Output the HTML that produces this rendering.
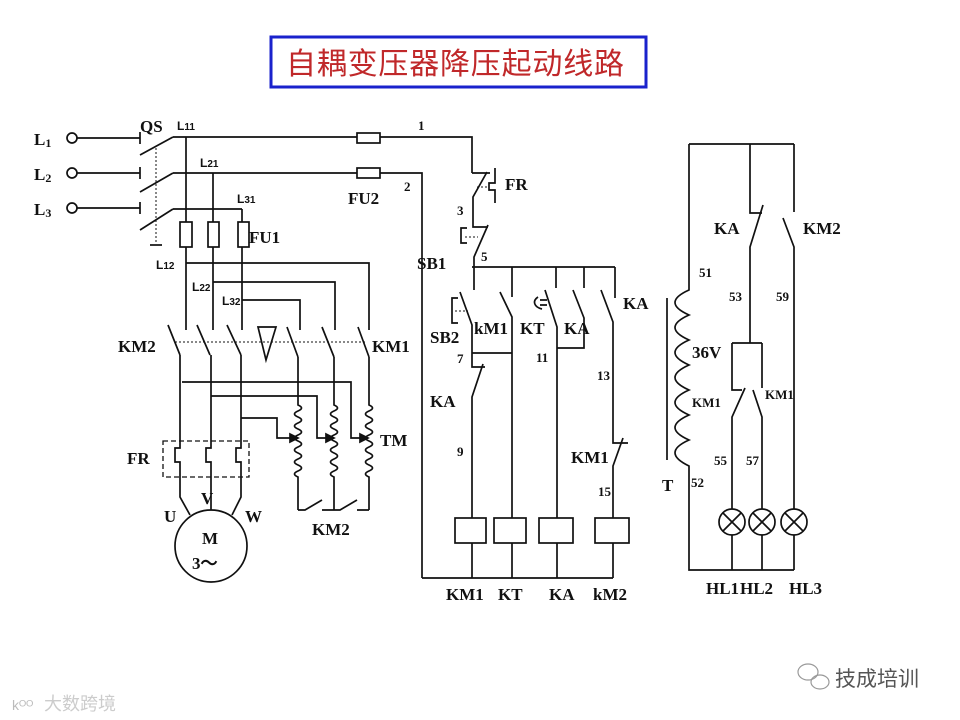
<!DOCTYPE html>
<html><head><meta charset="utf-8"><style>
html,body{margin:0;padding:0;background:#fff}
svg{display:block}
.t{font-family:"Liberation Serif",serif;font-weight:bold;font-size:17px;fill:#111}
.s{font-family:"Liberation Sans",sans-serif;font-weight:bold;font-size:12px;fill:#111}
.n{font-family:"Liberation Serif",serif;font-weight:bold;font-size:13px;fill:#111}
</style></head><body>
<svg width="960" height="720" viewBox="0 0 960 720" xmlns="http://www.w3.org/2000/svg">
<rect x="271" y="37" width="375" height="50" fill="none" stroke="#1a22cc" stroke-width="3"/>
<text x="455" y="74" text-anchor="middle" font-family="'Liberation Sans','Noto Sans CJK SC',sans-serif" font-size="30" fill="#c0282a" textLength="338">自耦变压器降压起动线路</text>

<g stroke="#111" stroke-width="1.7" fill="none">
<circle cx="72" cy="138" r="5"/><circle cx="72" cy="173" r="5"/><circle cx="72" cy="208" r="5"/>
<path d="M77 138H140M140 132V144M77 173H140M140 167V179M77 208H140M140 202V214"/>
<path d="M140 155L173 137M140 192L173 173M140 230L173 209"/>
<path d="M156 148V243" stroke-dasharray="2 2" stroke-width="1"/>
<path d="M150 245H162"/>
<path d="M173 137H472V173M173 173H422V578M173 209H242"/>
<rect x="357" y="133" width="23" height="10" fill="#fff"/>
<rect x="357" y="168" width="23" height="10" fill="#fff"/>
<path d="M186 137V330M213 173V330M242 209V330"/>
<rect x="180" y="222" width="12" height="25" fill="#fff"/>
<rect x="208" y="222" width="11" height="25" fill="#fff"/>
<rect x="238" y="222" width="11" height="25" fill="#fff"/>
<path d="M186 263H369V330M213 282H335V330M242 300H300V330"/>
<path d="M168 325L180 355M197 325L210 355M227 325L241 355M287 327L298 357M322 327L334 357M358 327L369 357"/>
<path d="M258 327H276L266 360Z"/>
<path d="M175 342H365" stroke-dasharray="2 2" stroke-width="1"/>
<path d="M180 355V448H175V462H180V497L190 515M211 355V448H206V462H211V510M241 355V448H236V462H241V497L232 515"/>
<path d="M182 382H351V438H360M211 396H317V438H326M241 418H277V438H290"/>
<path d="M360 434L368 438L360 442Z M326 434L334 438L326 442Z M290 434L298 438L290 442Z" fill="#111"/>
<path d="M298 357V405 q7 3 0 6 q-7 3 0 6 q7 3 0 6 q-7 3 0 6 q7 3 0 6 q-7 3 0 6 q7 3 0 6 q-7 3 0 6 q7 3 0 6 q-7 3 0 6 q7 3 0 6 q-7 3 0 6 V510"/>
<path d="M334 357V405 q7 3 0 6 q-7 3 0 6 q7 3 0 6 q-7 3 0 6 q7 3 0 6 q-7 3 0 6 q7 3 0 6 q-7 3 0 6 q7 3 0 6 q-7 3 0 6 q7 3 0 6 q-7 3 0 6 V510"/>
<path d="M369 357V405 q7 3 0 6 q-7 3 0 6 q7 3 0 6 q-7 3 0 6 q7 3 0 6 q-7 3 0 6 q7 3 0 6 q-7 3 0 6 q7 3 0 6 q-7 3 0 6 q7 3 0 6 q-7 3 0 6 V510"/>
<path d="M298 510H305L322 500M322 510H340L357 500M357 510H369"/>
<rect x="163" y="441" width="86" height="36" stroke-dasharray="5 3" stroke-width="1.3"/>
<circle cx="211" cy="546" r="36"/>
<path d="M472 173H490M487 172L473 197V227H488M488 225L474 257V290"/>
<path d="M495 168V183H489V190H495V203"/>
<path d="M477 187H489M465 237H478M455 311H468" stroke-dasharray="2 2" stroke-width="1"/>
<path d="M467 228H461V243H467M458 298H452V323H458"/>
<path d="M472 267H615M512 267V297M556 267V288M584 267V288M615 267V298"/>
<path d="M460 292L472 325V367H485M483 364L472 397V578"/>
<path d="M500 292L512 317V578M545 290L557 327V578M573 290L584 318V348H557M601 290L613 322V443H628M623 438L613 466V578"/>
<path d="M472 353H512"/>
<path d="M538 297c-6 4 -4 10 4 12M540 300h7M540 305h7"/>
<rect x="455" y="518" width="31" height="25" fill="#fff"/>
<rect x="494" y="518" width="32" height="25" fill="#fff"/>
<rect x="539" y="518" width="34" height="25" fill="#fff"/>
<rect x="595" y="518" width="34" height="25" fill="#fff"/>
<path d="M422 578H613"/>
<path d="M689 144H794M689 144V290 q-28 12.5 0 25 q-28 12.5 0 25 q-28 12.5 0 25 q-28 12.5 0 25 q-28 12.5 0 25 q-28 12.5 0 25 q-28 12.5 0 26 V570H794"/>
<path d="M667 298V460"/>
<path d="M750 144V213H762M763 205L750 247V343M732 343H762M732 343V390H742M745 388L732 417V570M762 343V388M753 390L762 417V570"/>
<path d="M794 144V212M783 218L794 247V570"/>
<circle cx="732" cy="522" r="13" fill="#fff"/><circle cx="762" cy="522" r="13" fill="#fff"/><circle cx="794" cy="522" r="13" fill="#fff"/>
<path d="M723 513l18 18M741 513l-18 18M753 513l18 18M771 513l-18 18M785 513l18 18M803 513l-18 18"/>
</g>

<text class="t" x="34" y="145">L<tspan font-size="12" dy="2">1</tspan></text>
<text class="t" x="34" y="180">L<tspan font-size="12" dy="2">2</tspan></text>
<text class="t" x="34" y="215">L<tspan font-size="12" dy="2">3</tspan></text>
<text class="t" x="140" y="132">QS</text>
<text class="s" x="177" y="130">L<tspan font-size="10">11</tspan></text>
<text class="s" x="200" y="167">L<tspan font-size="10">21</tspan></text>
<text class="s" x="237" y="203">L<tspan font-size="10">31</tspan></text>
<text class="s" x="156" y="269">L<tspan font-size="10">12</tspan></text>
<text class="s" x="192" y="291">L<tspan font-size="10">22</tspan></text>
<text class="s" x="222" y="305">L<tspan font-size="10">32</tspan></text>
<text class="t" x="249" y="243">FU1</text>
<text class="t" x="348" y="204">FU2</text>
<text class="n" x="418" y="130">1</text>
<text class="n" x="404" y="191">2</text>
<text class="t" x="118" y="352">KM2</text>
<text class="t" x="372" y="352">KM1</text>
<text class="t" x="127" y="464">FR</text>
<text class="t" x="380" y="446">TM</text>
<text class="t" x="312" y="535">KM2</text>
<text class="t" x="164" y="522">U</text>
<text class="t" x="201" y="504">V</text>
<text class="t" x="245" y="522">W</text>
<text class="t" x="202" y="544" font-size="19">M</text>
<text class="t" x="192" y="569" font-size="18">3～</text>
<text class="t" x="505" y="190">FR</text>
<text class="n" x="457" y="215">3</text>
<text class="t" x="417" y="269">SB1</text>
<text class="n" x="481" y="261">5</text>
<text class="t" x="623" y="309">KA</text>
<text class="t" x="430" y="343">SB2</text>
<text class="t" x="474" y="334">kM1</text>
<text class="t" x="520" y="334">KT</text>
<text class="t" x="564" y="334">KA</text>
<text class="n" x="457" y="363">7</text>
<text class="n" x="536" y="362">11</text>
<text class="n" x="597" y="380">13</text>
<text class="t" x="430" y="407">KA</text>
<text class="n" x="457" y="456">9</text>
<text class="t" x="571" y="463">KM1</text>
<text class="n" x="598" y="496">15</text>
<text class="t" x="446" y="600">KM1</text>
<text class="t" x="498" y="600">KT</text>
<text class="t" x="549" y="600">KA</text>
<text class="t" x="593" y="600">kM2</text>
<text class="t" x="714" y="234">KA</text>
<text class="t" x="803" y="234">KM2</text>
<text class="n" x="699" y="277">51</text>
<text class="n" x="729" y="301">53</text>
<text class="n" x="776" y="301">59</text>
<text class="t" x="692" y="358">36V</text>
<text class="n" x="692" y="407">KM1</text>
<text class="n" x="765" y="399">KM1</text>
<text class="n" x="714" y="465">55</text>
<text class="n" x="746" y="465">57</text>
<text class="t" x="662" y="491" font-size="17">T</text>
<text class="n" x="691" y="487">52</text>
<text class="t" x="706" y="594">HL1</text>
<text class="t" x="740" y="594">HL2</text>
<text class="t" x="789" y="594">HL3</text>

<g stroke="#999" fill="none" stroke-width="1.2">
<ellipse cx="808" cy="672" rx="10" ry="8"/><ellipse cx="820" cy="682" rx="9" ry="7"/>
</g>
<text x="835" y="686" font-family="'Liberation Sans','Noto Sans CJK SC',sans-serif" font-size="21" fill="#555">技成培训</text>
<text x="12" y="710" font-family="'Liberation Sans','Noto Sans CJK SC',sans-serif" font-size="14" fill="#bbb">kᴼᴼ</text>
<text x="44" y="710" font-family="'Liberation Sans','Noto Sans CJK SC',sans-serif" font-size="18" fill="#ccc">大数跨境</text>
</svg>
</body></html>
